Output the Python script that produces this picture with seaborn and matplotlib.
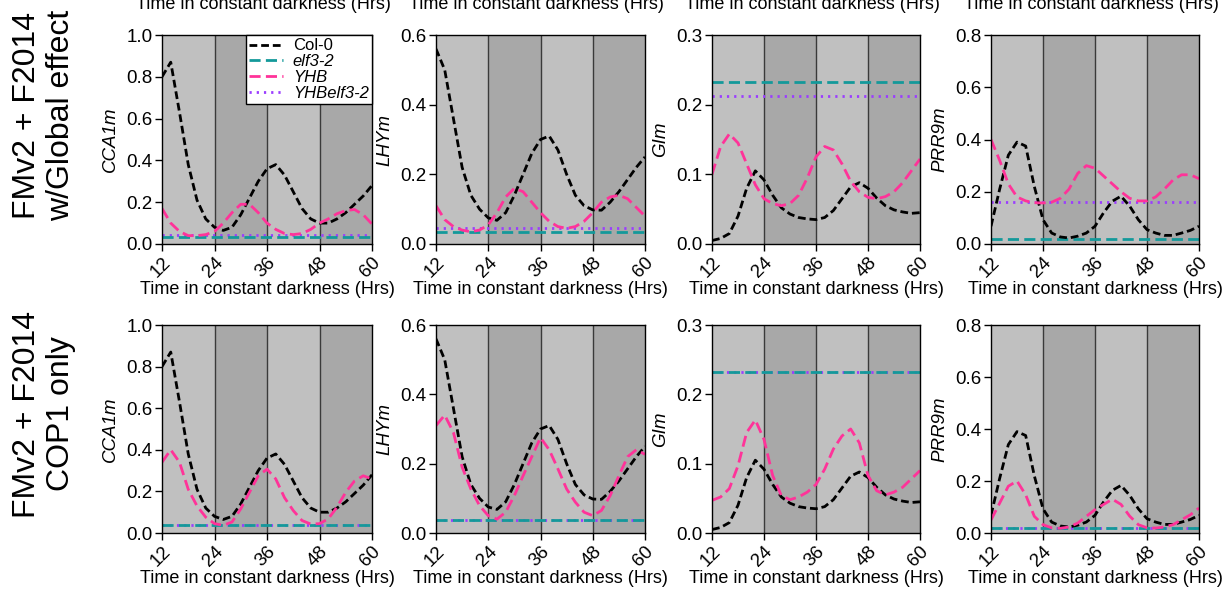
import matplotlib
matplotlib.use("Agg")
import matplotlib.pyplot as plt
from matplotlib.lines import Line2D
import seaborn as sns

# time points (hours in constant darkness)
HOURS = list(range(12, 61, 2))

GENES = ["CCA1m", "LHYm", "GIm", "PRR9m"]
Y_MAX = [1.0, 0.6, 0.3, 0.8]
Y_STEP = [0.2, 0.2, 0.1, 0.2]
X_TICKS = [12, 24, 36, 48, 60]
ROW_LABELS = ["FMv2 + F2014\nw/Global effect", "FMv2 + F2014\nCOP1 only"]

# Col-0 is the same in both model versions
COL0_CCA1 = [0.80, 0.87, 0.63, 0.38, 0.21, 0.12, 0.08, 0.065, 0.08, 0.14, 0.22, 0.30, 0.36,
             0.38, 0.33, 0.25, 0.17, 0.12, 0.10, 0.10, 0.12, 0.15, 0.19, 0.23, 0.28]
COL0_LHY = [0.56, 0.50, 0.36, 0.22, 0.14, 0.10, 0.075, 0.068, 0.09, 0.14, 0.20, 0.26, 0.30,
            0.31, 0.27, 0.20, 0.14, 0.11, 0.098, 0.097, 0.12, 0.15, 0.185, 0.22, 0.25]
COL0_GI = [0.005, 0.008, 0.015, 0.04, 0.08, 0.105, 0.092, 0.07, 0.052, 0.043, 0.038, 0.036, 0.035,
           0.038, 0.048, 0.065, 0.082, 0.088, 0.08, 0.066, 0.055, 0.049, 0.046, 0.044, 0.045]
COL0_PRR9 = [0.068, 0.21, 0.34, 0.39, 0.375, 0.22, 0.093, 0.042, 0.027, 0.023, 0.03, 0.042, 0.068,
             0.12, 0.164, 0.183, 0.145, 0.093, 0.055, 0.042, 0.033, 0.033, 0.042, 0.052, 0.068]

# YHB, global effect model
YHB_CCA1_GLOBAL = [0.17, 0.10, 0.06, 0.04, 0.04, 0.045, 0.06, 0.10, 0.15, 0.19, 0.19, 0.15, 0.10,
                   0.07, 0.05, 0.045, 0.05, 0.07, 0.10, 0.12, 0.145, 0.16, 0.165, 0.14, 0.095]
YHB_LHY_GLOBAL = [0.11, 0.07, 0.05, 0.04, 0.035, 0.04, 0.055, 0.09, 0.135, 0.16, 0.15, 0.12, 0.09,
                  0.065, 0.05, 0.045, 0.05, 0.065, 0.09, 0.12, 0.135, 0.14, 0.13, 0.105, 0.08]
YHB_GI_GLOBAL = [0.10, 0.14, 0.158, 0.145, 0.115, 0.085, 0.065, 0.058, 0.055, 0.058, 0.07, 0.095, 0.125,
                 0.14, 0.135, 0.115, 0.09, 0.075, 0.067, 0.065, 0.068, 0.075, 0.088, 0.105, 0.122]
YHB_PRR9_GLOBAL = [0.40, 0.32, 0.23, 0.18, 0.165, 0.158, 0.157, 0.16, 0.175, 0.21, 0.27, 0.30, 0.29,
                   0.26, 0.23, 0.20, 0.175, 0.165, 0.165, 0.18, 0.21, 0.245, 0.265, 0.265, 0.25]

# YHB, COP1-only model
YHB_CCA1_COP1 = [0.34, 0.40, 0.34, 0.21, 0.13, 0.076, 0.045, 0.037, 0.053, 0.116, 0.196, 0.275, 0.307,
                 0.26, 0.17, 0.108, 0.06, 0.043, 0.045, 0.068, 0.124, 0.196, 0.25, 0.275, 0.26]
YHB_LHY_COP1 = [0.31, 0.34, 0.29, 0.19, 0.127, 0.079, 0.05, 0.04, 0.06, 0.108, 0.165, 0.22, 0.275,
                0.24, 0.185, 0.127, 0.089, 0.06, 0.05, 0.065, 0.108, 0.165, 0.22, 0.24, 0.227]
YHB_GI_COP1 = [0.047, 0.052, 0.064, 0.097, 0.145, 0.163, 0.135, 0.083, 0.054, 0.048, 0.052, 0.059, 0.07,
               0.092, 0.121, 0.14, 0.15, 0.13, 0.083, 0.061, 0.055, 0.059, 0.066, 0.078, 0.09]
YHB_PRR9_COP1 = [0.05, 0.115, 0.18, 0.2, 0.147, 0.064, 0.032, 0.02, 0.018, 0.023, 0.038, 0.064, 0.09,
                 0.11, 0.13, 0.11, 0.065, 0.032, 0.02, 0.019, 0.023, 0.032, 0.051, 0.07, 0.096]

# flat mutant levels per gene
ELF3_GLOBAL = [0.035, 0.035, 0.232, 0.02]
YHBELF3_GLOBAL = [0.045, 0.045, 0.213, 0.16]
ELF3_COP1 = [0.04, 0.038, 0.232, 0.02]
YHBELF3_COP1 = [0.04, 0.038, 0.232, 0.02]

COL0 = [COL0_CCA1, COL0_LHY, COL0_GI, COL0_PRR9]
YHB = [[YHB_CCA1_GLOBAL, YHB_LHY_GLOBAL, YHB_GI_GLOBAL, YHB_PRR9_GLOBAL],
       [YHB_CCA1_COP1, YHB_LHY_COP1, YHB_GI_COP1, YHB_PRR9_COP1]]
ELF3 = [ELF3_GLOBAL, ELF3_COP1]
YHBELF3 = [YHBELF3_GLOBAL, YHBELF3_COP1]

C_COL0 = "#000000"
C_ELF3 = "#14999a"
C_YHB = "#ff3399"
C_YHBELF3 = "#9b3dff"
LIGHT = "#c0c0c0"
DARK = "#a8a8a8"

DASH_COL0 = (0, (2.8, 1.4))
DASH_LONG = (0, (4.0, 1.9))
DOTS = (0, (0.8, 1.8))

W, H = 1224, 592
COL_X = [162, 436, 712, 991]
COL_W = [210, 209, 208, 208]
ROW_TOP = [35, 325]
ROW_H = [209, 208]
ROW_LABEL_Y = [115, 414]   # pixel centre of the row titles


def main():
    sns.set_theme(style="ticks")
    plt.rcParams['font.family'] = ['Liberation Sans', 'DejaVu Sans']
    plt.rcParams['axes.linewidth'] = 1.0
    for key in ("text.color", "axes.labelcolor", "xtick.color", "ytick.color"):
        plt.rcParams[key] = "black"

    fig = plt.figure(figsize=(W / 100, H / 100), dpi=100)
    fig.patch.set_facecolor("white")

    for r in range(2):
        for c in range(4):
            left = COL_X[c] / W
            bottom = (H - ROW_TOP[r] - ROW_H[r]) / H
            ax = fig.add_axes([left, bottom, COL_W[c] / W, ROW_H[r] / H])

            # alternating light/dark bands
            for i in range(len(X_TICKS) - 1):
                ax.axvspan(X_TICKS[i], X_TICKS[i + 1],
                           color=LIGHT if i % 2 == 0 else DARK, lw=0, zorder=0)
            for t in X_TICKS[1:-1]:
                ax.axvline(t, color="#3a3a3a", lw=1.0, zorder=1)

            n = len(HOURS)
            sns.lineplot(x=HOURS, y=[YHBELF3[r][c]] * n, ax=ax, color=C_YHBELF3,
                         lw=2.0, linestyle=DOTS, zorder=3)
            sns.lineplot(x=HOURS, y=[ELF3[r][c]] * n, ax=ax, color=C_ELF3,
                         lw=2.0, linestyle=DASH_LONG, zorder=4)
            sns.lineplot(x=HOURS, y=COL0[c], ax=ax, color=C_COL0,
                         lw=2.0, linestyle=DASH_COL0, zorder=5)
            sns.lineplot(x=HOURS, y=YHB[r][c], ax=ax, color=C_YHB,
                         lw=2.0, linestyle=DASH_LONG, zorder=6)

            ax.set_xlim(12, 60)
            ax.set_ylim(0, Y_MAX[c])
            ax.set_xticks(X_TICKS)
            ax.set_xticklabels([str(t) for t in X_TICKS], rotation=45,
                               ha="right", va="top", rotation_mode="anchor")
            n_ticks = int(round(Y_MAX[c] / Y_STEP[c])) + 1
            ax.set_yticks([round(k * Y_STEP[c], 1) for k in range(n_ticks)])
            ax.yaxis.set_major_formatter(matplotlib.ticker.FormatStrFormatter("%.1f"))
            ax.tick_params(axis="both", labelsize=13.5, length=5, width=1.0,
                           color="black", labelcolor="black", pad=2)
            for s in ax.spines.values():
                s.set_color("black")
                s.set_linewidth(1.0)
                s.set_zorder(10)
            ax.set_xlabel("Time in constant darkness (Hrs)", fontsize=13, labelpad=0)
            ax.set_ylabel(GENES[c], fontsize=13.5, style="italic", labelpad=5)

            if r == 0 and c == 0:
                handles = [
                    Line2D([], [], color=C_COL0, lw=2.0, linestyle=DASH_COL0),
                    Line2D([], [], color=C_ELF3, lw=2.0, linestyle=DASH_LONG),
                    Line2D([], [], color=C_YHB, lw=2.0, linestyle=DASH_LONG),
                    Line2D([], [], color=C_YHBELF3, lw=2.0, linestyle=DOTS),
                ]
                leg = ax.legend(handles, ["Col-0", "elf3-2", "YHB", "YHBelf3-2"],
                                loc="upper right", fontsize=12, frameon=True,
                                fancybox=False, framealpha=1, edgecolor="black",
                                borderpad=0.2, labelspacing=0.05, handlelength=2.0,
                                handletextpad=0.6, borderaxespad=0.0)
                leg.get_frame().set_linewidth(1.0)
                leg.set_zorder(20)
                for i, txt in enumerate(leg.get_texts()):
                    if i > 0:
                        txt.set_style("italic")

    # row titles
    for r in range(2):
        fig.text(44 / W, 1 - ROW_LABEL_Y[r] / H, ROW_LABELS[r], rotation=90,
                 ha="center", va="center", fontsize=23, linespacing=1.15)

    # x labels of the row above, cut off at the top edge
    for c in range(4):
        xc = (COL_X[c] + COL_W[c] / 2 - 4) / W
        fig.text(xc, 1.0 + 4 / H, "Time in constant darkness (Hrs)", ha="center",
                 va="top", fontsize=13)

    fig.savefig("out.png", dpi=100)
    plt.close(fig)


if __name__ == "__main__":
    main()
